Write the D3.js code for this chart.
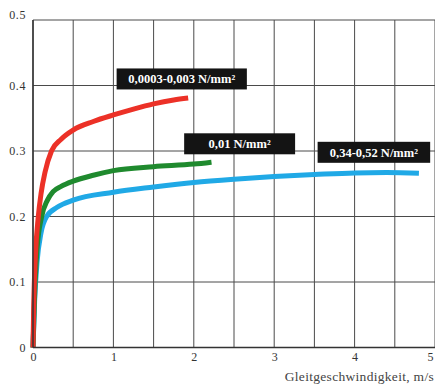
<!DOCTYPE html>
<html>
<head>
<meta charset="utf-8">
<script src="https://cdn.jsdelivr.net/npm/d3@7"></script>
<style>
  html, body { margin: 0; padding: 0; background: #fff; }
  svg { display: block; }
</style>
</head>
<body>
<svg id="chart" width="435" height="385"></svg>
<script>
// Friction coefficient vs. sliding speed for three contact pressure ranges
const xTicks = [0, 1, 2, 3, 4, 5];
const yTicks = [0, 0.1, 0.2, 0.3, 0.4, 0.5];
const yTickLabels = ["0", "0.1", "0.2", "0.3", "0.4", "0.5"];
const xTitle = "Gleitgeschwindigkeit, m/s";

const seriesNames = ["0,0003-0,003 N/mm²", "0,01 N/mm²", "0,34-0,52 N/mm²"];
const seriesColors = ["#ec3127", "#1f8a2e", "#20a9e6"];

// speed (m/s)
const redX   = [0, 0.01, 0.03, 0.066, 0.1, 0.15, 0.23, 0.35, 0.5, 0.75, 1.0, 1.25, 1.5, 1.75, 1.93];
const redY   = [0, 0.07, 0.14, 0.2, 0.235, 0.268, 0.3, 0.318, 0.332, 0.345, 0.355, 0.364, 0.372, 0.378, 0.381];
const greenX = [0, 0.02, 0.05, 0.108, 0.18, 0.25, 0.35, 0.5, 0.75, 1.0, 1.5, 2.0, 2.22];
const greenY = [0, 0.08, 0.15, 0.2, 0.225, 0.238, 0.246, 0.254, 0.263, 0.27, 0.276, 0.28, 0.283];
const blueX  = [0, 0.02, 0.05, 0.1, 0.17, 0.3, 0.5, 1.0, 1.5, 2.0, 2.5, 3.0, 3.5, 4.0, 4.4, 4.8];
const blueY  = [0, 0.07, 0.13, 0.175, 0.2, 0.214, 0.225, 0.237, 0.245, 0.252, 0.257, 0.261, 0.264, 0.2665, 0.267, 0.266];

// label boxes in data units: left, right, vertical centre
const labelX0 = [1.04, 1.88, 3.54];
const labelX1 = [2.66, 3.26, 4.94];
const labelY  = [0.41, 0.311, 0.298];

const svg = d3.select("#chart");
const x = d3.scaleLinear().domain([0, 5]).range([33, 435]);
const y = d3.scaleLinear().domain([0, 0.5]).range([347.5, 20]);

const serif = "'Liberation Serif', 'DejaVu Serif', serif";

// grid
const grid = svg.append("g").attr("stroke", "#4a4a4a").attr("stroke-width", 1);
grid.selectAll("line.v")
  .data(d3.range(0, 5.01, 0.5))
  .join("line")
  .attr("x1", d => x(d)).attr("x2", d => x(d))
  .attr("y1", y(0)).attr("y2", y(0.5));
grid.selectAll("line.h")
  .data(yTicks)
  .join("line")
  .attr("x1", x(0)).attr("x2", x(5))
  .attr("y1", d => y(d)).attr("y2", d => y(d));

// axes (labels only)
const yAxis = svg.append("g")
  .attr("transform", `translate(${x(0)},0)`)
  .call(d3.axisLeft(y).tickValues(yTicks).tickSize(0).tickPadding(7)
    .tickFormat((d, i) => yTickLabels[i]));
yAxis.select(".domain").remove();
yAxis.selectAll("text").attr("font-family", serif).attr("font-size", 12).attr("fill", "#333")
  .attr("letter-spacing", 0.6)
  .attr("dy", d => d === 0.5 ? "-0.1em" : "0.32em");

const xAxis = svg.append("g")
  .attr("transform", `translate(0,${y(0)})`)
  .call(d3.axisBottom(x).tickValues(xTicks).tickSize(0).tickPadding(5)
    .tickFormat(d3.format("d")));
xAxis.select(".domain").remove();
xAxis.selectAll("text").attr("font-family", serif).attr("font-size", 12).attr("fill", "#333")
  .attr("dx", d => d === 5 ? -5 : 0);

svg.append("text")
  .attr("x", 434).attr("y", 381)
  .attr("text-anchor", "end")
  .attr("font-family", serif).attr("font-size", 13.5).attr("fill", "#444")
  .attr("letter-spacing", 0.3)
  .text(xTitle);

// curves
const seriesX = [redX, greenX, blueX];
const seriesY = [redY, greenY, blueY];
const line = d3.line().x(d => x(d[0])).y(d => y(d[1])).curve(d3.curveMonotoneX);
const curveG = svg.append("g");
[2, 1, 0].forEach(i => {
  const pts = seriesX[i].map((v, k) => [v, seriesY[i][k]]);
  curveG.append("path")
    .attr("d", line(pts))
    .attr("fill", "none")
    .attr("stroke", seriesColors[i])
    .attr("stroke-width", 5)
    .attr("stroke-linejoin", "round");
});

// axis lines drawn over curve starts
svg.append("line").attr("x1", x(0)).attr("x2", x(0)).attr("y1", y(0)).attr("y2", y(0.5))
  .attr("stroke", "#333").attr("stroke-width", 1.5);
svg.append("line").attr("x1", x(0)).attr("x2", x(5)).attr("y1", y(0)).attr("y2", y(0))
  .attr("stroke", "#333").attr("stroke-width", 1.5);

// series labels
const lab = svg.append("g");
seriesNames.forEach((name, i) => {
  const x0 = x(labelX0[i]), x1 = x(labelX1[i]), yc = y(labelY[i]);
  lab.append("rect")
    .attr("x", x0).attr("y", yc - 10.5)
    .attr("width", x1 - x0).attr("height", 21)
    .attr("fill", "#141414");
  lab.append("text")
    .attr("x", (x0 + x1) / 2).attr("y", yc + 4.5)
    .attr("text-anchor", "middle")
    .attr("font-family", serif).attr("font-weight", "bold").attr("font-size", 12.5)
    .attr("fill", "#fff")
    .text(name);
});
</script>
</body>
</html>
